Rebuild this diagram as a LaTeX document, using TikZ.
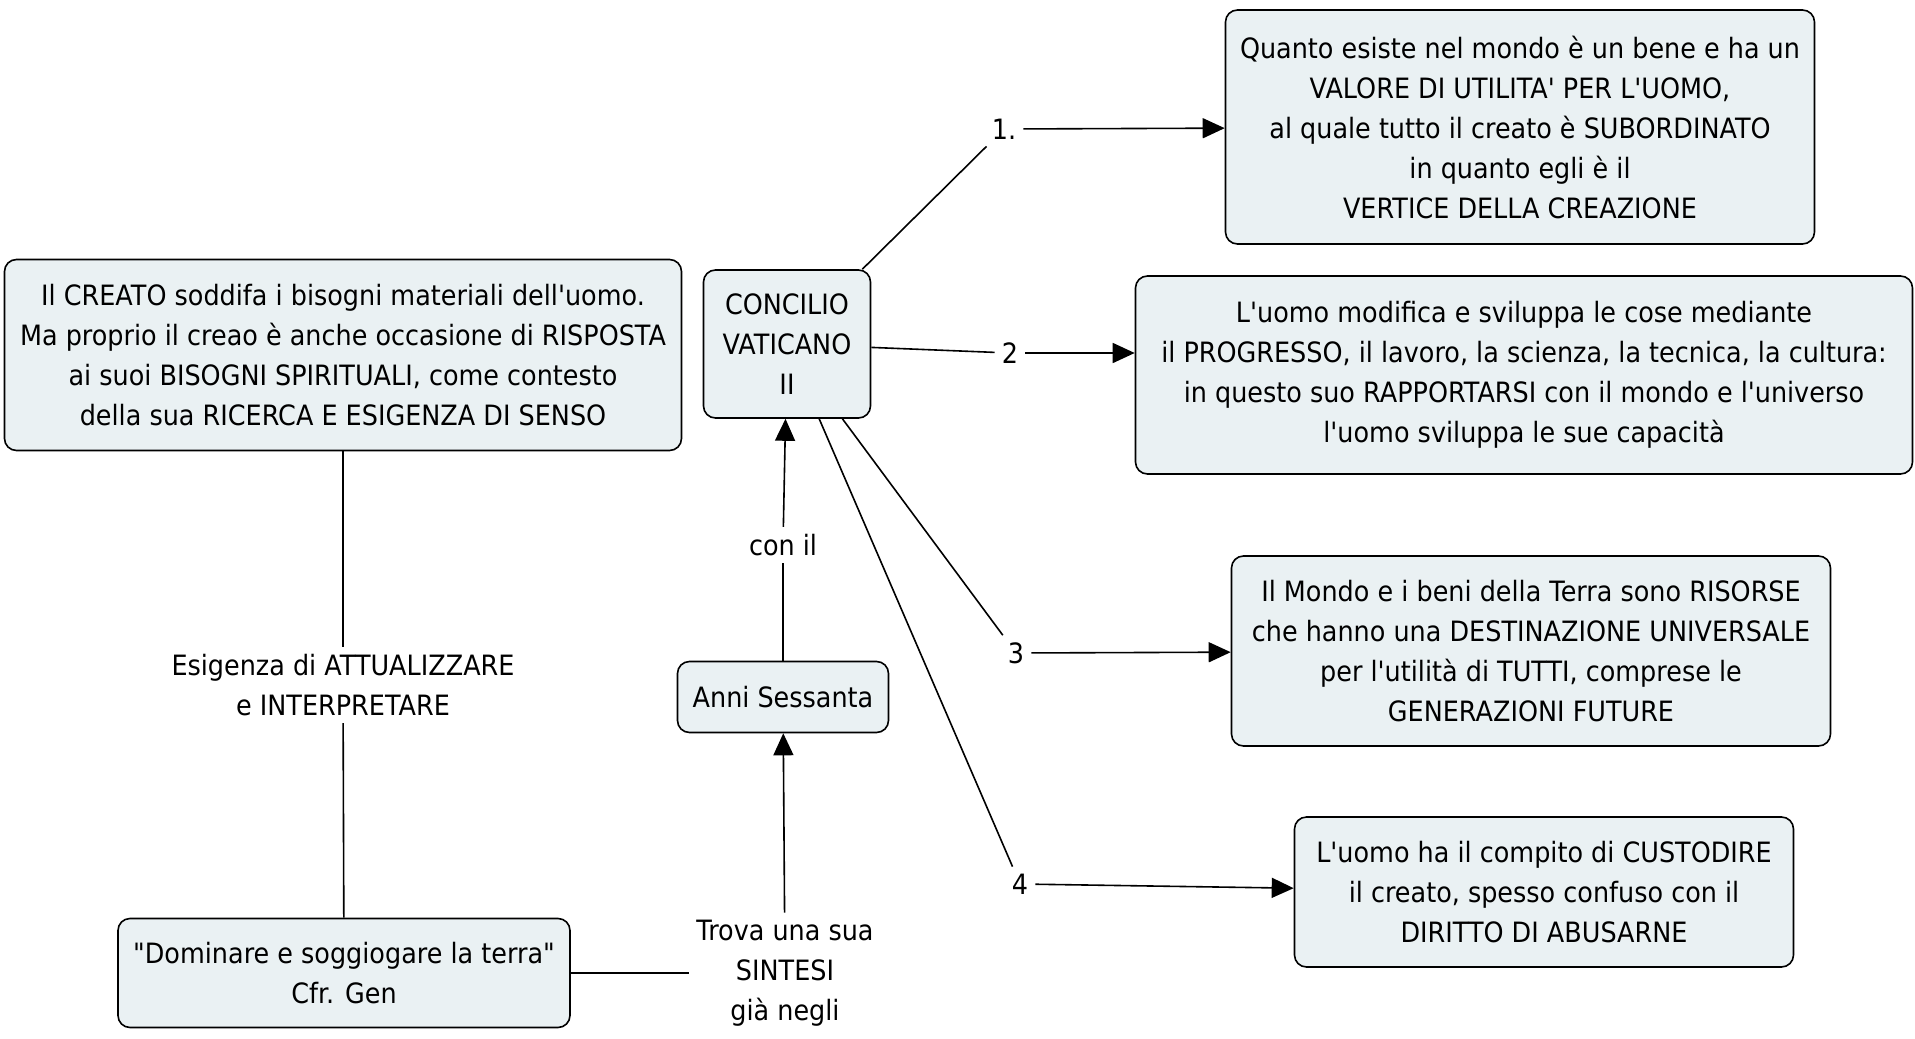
\documentclass[tikz,border=0pt]{standalone}
\usepackage{fontspec}
\usetikzlibrary{arrows.meta}
\newfontfamily\mapfont{DejaVu Sans}[FakeStretch=0.91]
\definecolor{boxfill}{RGB}{234,241,243}

\tikzset{
  concept/.style={draw, fill=boxfill, line width=1.6pt, rounded corners=12pt,
    align=center, inner sep=0pt, font=\mapfont\fontsize{28}{40}\selectfont},
  linklbl/.style={align=center, inner sep=7pt, font=\mapfont\fontsize{28}{40}\selectfont},
  link/.style={line width=1.6pt},
  linkarr/.style={line width=1.6pt, -{Triangle[length=22pt,width=20pt]}}
}

\begin{document}
\begin{tikzpicture}[x=1pt, y=-1pt]
\useasboundingbox (0,0) rectangle (1915,1039);

% Draw the concepts
\node[concept, minimum width=677pt, minimum height=191pt] (creato) at (343,355)
  {Il CREATO soddifa i bisogni materiali dell'uomo.\\
   Ma proprio il creao è anche occasione di RISPOSTA\\
   ai suoi BISOGNI SPIRITUALI, come contesto\\
   della sua RICERCA E ESIGENZA DI SENSO};
\node[concept, minimum width=167pt, minimum height=148pt] (concilio) at (787,344)
  {CONCILIO\\ VATICANO\\ II};
\node[concept, minimum width=589pt, minimum height=234pt] (valore) at (1520,127)
  {Quanto esiste nel mondo è un bene e ha un\\
   VALORE DI UTILITA' PER L'UOMO,\\
   al quale tutto il creato è SUBORDINATO\\
   in quanto egli è il\\
   VERTICE DELLA CREAZIONE};
\node[concept, minimum width=777pt, minimum height=198pt] (progresso) at (1524,375)
  {L'uomo modifica e sviluppa le cose mediante\\
   il PROGRESSO, il lavoro, la scienza, la tecnica, la cultura:\\
   in questo suo RAPPORTARSI con il mondo e l'universo\\
   l'uomo sviluppa le sue capacità};
\node[concept, minimum width=599pt, minimum height=190pt] (risorse) at (1531,651)
  {Il Mondo e i beni della Terra sono RISORSE\\
   che hanno una DESTINAZIONE UNIVERSALE\\
   per l'utilità di TUTTI, comprese le\\
   GENERAZIONI FUTURE};
\node[concept, minimum width=499pt, minimum height=150pt] (custodire) at (1544,892)
  {L'uomo ha il compito di CUSTODIRE\\
   il creato, spesso confuso con il\\
   DIRITTO DI ABUSARNE};
\node[concept, minimum width=452pt, minimum height=109pt] (genesi) at (344,973)
  {"Dominare e soggiogare la terra"\\ Cfr. Gen};
\node[concept, minimum width=211pt, minimum height=71pt] (anni) at (783,697)
  {Anni Sessanta};

% Draw the link labels
\node[linklbl] (uno) at (1004,129) {1.};
\node[linklbl] (due) at (1010,353) {2};
\node[linklbl] (tre) at (1016,653) {3};
\node[linklbl] (quattro) at (1020,884) {4};
\node[linklbl] (conil) at (783,545) {con il};
\node[linklbl] (esigenza) at (343,685) {Esigenza di ATTUALIZZARE\\ e INTERPRETARE};
\node[linklbl] (trova) at (785,973) {Trova una sua\\ SINTESI\\ già negli};

% Draw the connectors
\draw[link] (creato) -- (esigenza);
\draw[link] (esigenza) -- (genesi);
\draw[link] (genesi) -- (trova);
\draw[linkarr] (trova) -- (anni);
\draw[link] (anni) -- (conil);
\draw[linkarr] (conil) -- (concilio);
\draw[link] (concilio) -- (uno);
\draw[linkarr] (uno) -- (valore);
\draw[link] (concilio) -- (due);
\draw[linkarr] (due) -- (progresso.west |- due);
\draw[link] (concilio) -- (tre);
\draw[linkarr] (tre) -- (risorse);
\draw[link] (concilio) -- (quattro);
\draw[linkarr] (quattro) -- (custodire);

\end{tikzpicture}
\end{document}
